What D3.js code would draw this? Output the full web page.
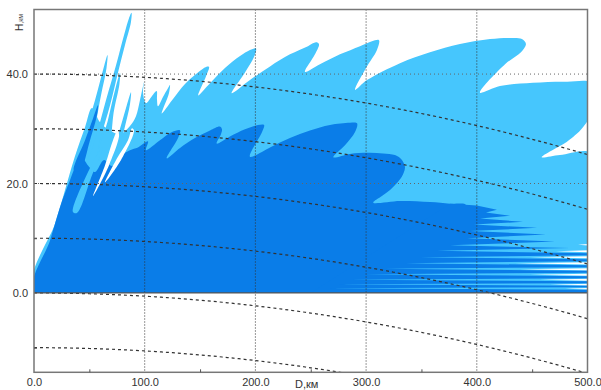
<!DOCTYPE html>
<html>
<head>
<meta charset="utf-8">
<script src="https://cdn.jsdelivr.net/npm/d3@7"></script>
<style>
  body { margin: 0; background: #fff; }
  svg { display: block; font-family: "Liberation Sans", Arial, sans-serif; }
</style>
</head>
<body>
<div id="chart"></div>
<script>
"use strict";

// axes
const xTicks = [0, 100, 200, 300, 400, 500];
const xMinorTicks = [50, 150, 250, 350, 450];
const yTicks = [0, 20, 40];
const yMinorTicks = [-10, 10, 30];
const altitudeLines = [-10, 0, 10, 20, 30, 40];
const earthRadiusKm = 8500; // 4/3 earth radius

// coverage outlines, [D km, H km]
const lightBody = [
  [0,0],[19.0,12.7],[25.3,16.9],[37.0,25.0],[46.1,30.3],[52.4,33.8],[59.6,31.2],[68.7,29.7],
  [77.7,29.0],[86.7,30.5],[92.1,32.3],[95.7,35.2],
  [99.4,38.5],[98.5,36.7],[101.2,34.7],[106.6,36.0],[110.8,36.9],[111.1,35.4],[112.0,34.1],
  [116.5,35.8],[121.0,37.4],[122.8,38.0],[121.9,36.5],[115.4,32.8],[124.7,35.2],[136.4,38.2],
  [148.1,40.3],[155.4,41.3],[158.1,41.3],[155.4,39.6],[148.4,36.1],[159.0,38.3],[172.5,41.1],
  [186.1,43.3],[195.1,44.4],[200.5,44.7],[198.7,43.1],[190.6,40.3],[178.6,36.5],[195.1,38.9],
  [213.2,41.4],[231.2,43.6],[247.5,45.1],[254.7,45.8],[257.4,45.5],[253.8,43.6],[244.8,40.4],
  [258.3,41.8],[276.4,43.6],[294.5,45.1],[305.3,46.0],[311.6,46.2],[309.8,44.4],[299.9,41.1],
  [290.0,37.1],[300.8,38.9],[330.6,42.0],[357.7,44.0],[384.8,45.5],[411.9,46.4],[430.0,46.6],
  [440.8,46.4],[444.4,45.5],[439.9,44.0],[425.5,41.8],[402.9,36.6],[420.9,37.8],[450.7,38.4],
  [481.2,38.6],[504,38.3],[504,33.0],[495.9,30.3],[488.7,28.8],[481.2,27.6],[458.6,24.8],
  [475.1,25.2],[504,25.5],[506,12],[506,0],[250,-1]
];
const lightLobeA = [[23.5,14.2],[41.6,26.1],[55.1,35.2],[62.3,40.7],[66.4,43.5],[65.5,41.1],[60.5,36.1],[52.4,27.9],[34.3,16.0]];
const lightLobeB = [[39.7,17.9],[55.1,27.9],[65.0,35.2],[74.1,41.6],[81.3,47.1],[85.8,50.2],[88.1,51.2],[87.6,49.5],[82.2,45.3],[75.9,40.3],[68.7,34.3],[59.6,27.9],[48.8,18.8]];
const lightLobeC = [[57.8,24.3],[66.8,31.6],[73.2,37.1],[77.7,40.2],[77.2,38.2],[72.3,33.4],[65.0,24.3]];
const lightLobeD = [[64.1,21.5],[75.9,28.8],[83.1,33.8],[87.6,36.7],[86.7,34.5],[81.3,29.7],[71.4,21.5]];

// white gaps between the low lobes at the far range: [edge top, apex, edge bottom]
const lightGaps = [
  [[504,9.03],[491.4,8.81],[504,8.59]],
  [[504,7.81],[471.5,7.62],[504,7.40]],
  [[504,6.71],[448.0,6.53],[504,6.31]],
  [[504,5.61],[434.5,5.43],[504,5.21]],
  [[504,4.52],[439.0,4.33],[504,4.11]],
  [[504,3.51],[448.0,3.33],[504,3.13]],
  [[504,2.60],[457.1,2.41],[504,2.23]],
  [[504,1.68],[466.1,1.50],[504,1.33]],
  [[504,0.93],[479.7,0.77],[504,0.62]]
];

const darkBody = [
  [0,0],[14.5,9.6],[19.9,13.3],[26.2,17.3],[32.5,20.6],[37.9,23.3],[43.4,24.6],[48.8,23.3],
  [55.1,22.1],[63.2,24.3],[70.5,23.2],[77.7,25.0],[86.7,26.1],[93.9,26.6],[103.0,27.7],
  [101.2,26.1],[113.8,27.9],[124.7,29.4],[131.9,29.7],[130.1,28.3],[119.9,24.6],[131.9,26.5],
  [145.4,28.3],[159.0,29.7],[168.0,30.4],[169.8,29.9],[168.9,29.0],[165.0,27.3],[177.0,28.6],
  [190.6,29.9],[202.3,30.7],[207.8,30.7],[206.0,29.4],[195.1,24.9],[213.2,26.6],[231.2,28.3],
  [249.3,29.7],[267.4,30.7],[285.4,31.1],[291.8,31.0],[290.0,29.4],[280.9,27.0],[270.4,24.8],
  [285.4,25.4],[301.7,25.6],[315.3,25.5],[326.1,25.2],[332.4,24.3],[335.1,23.0],[334.2,22.1],
  [332.1,21.2],[327.0,19.9],[321.6,18.8],[314.3,17.7],[306.5,16.5],[330.6,16.8],[357.7,16.6],
  [375.8,16.3],[390.0,16.1],[330.0,8.0],[262.0,0],[130.0,-1]
];
// finger-like low lobes, tip at the right, notch at the left
const darkStripes = [
  [375.8,16.3],[399.9,16.0],
  [418.2,15.2],[408.3,14.7],[430.0,14.1],[402.9,13.6],[441.7,13.0],[397.5,12.5],
  [454.4,11.9],[393.8,11.3],[462.5,10.7],[391.1,10.0],[470.6,9.4],[375.8,8.7],
  [484.2,8.2],[364.0,7.7],
  [504,7.26],[504,6.89],[348.7,6.53],
  [504,6.16],[504,5.80],[335.1,5.43],
  [504,5.06],[504,4.70],[317.1,4.42],
  [504,4.06],[504,3.69],[299.0,3.42],
  [504,3.05],[504,2.69],[285.4,2.41],
  [504,2.14],[504,1.77],[271.9,1.59],
  [504,1.32],[504,1.04],[263.8,0.86],
  [504,0.59],[504,0],[250,0]
];
const darkLobeA = [[36.1,22.4],[46.1,27.9],[53.3,31.9],[57.8,34.3],[56.9,32.5],[50.6,27.9],[41.6,22.4]];

// narrow streaks inside the fan
const lightStreak = [[35.2,14.8],[48.8,22.1],[59.6,26.1],[62.3,26.6],[52.4,21.5],[38.8,14.6]];
const gapStreakA = [[53.3,17.7],[64.1,23.3],[71.4,27.9],[75.0,29.4],[76.8,29.0],[67.7,23.3]];
const gapStreakB = [[64.1,20.2],[75.0,24.6],[84.9,27.9],[88.5,30.1],[90.3,29.7],[78.6,24.3]];

const width = 601;
const height = 390;
const plot = { left: 34, right: 587.5, top: 9.5, bottom: 372.3 };

const svg = d3.select("#chart")
  .append("svg")
  .attr("width", width)
  .attr("height", height);

const xScale = d3.scaleLinear().domain([0, 500]).range([plot.left, plot.right]);
const yScale = d3.scaleLinear().domain([-14.5, 51.8]).range([plot.bottom, plot.top]);

const defs = svg.append("defs");
defs.append("clipPath")
  .attr("id", "plot-clip")
  .append("rect")
  .attr("x", plot.left)
  .attr("y", plot.top)
  .attr("width", plot.right - plot.left)
  .attr("height", plot.bottom - plot.top);
defs.append("clipPath")
  .attr("id", "cover-clip")
  .append("rect")
  .attr("x", plot.left)
  .attr("y", plot.top)
  .attr("width", plot.right - plot.left)
  .attr("height", yScale(0) - plot.top);

const cover = svg.append("g").attr("clip-path", "url(#cover-clip)");
const area = svg.append("g").attr("clip-path", "url(#plot-clip)");

const rounded = d3.line()
  .x(d => xScale(d[0]))
  .y(d => yScale(d[1]))
  .curve(d3.curveCatmullRomClosed.alpha(0.5));
const straight = d3.line()
  .x(d => xScale(d[0]))
  .y(d => yScale(d[1]))
  .curve(d3.curveLinearClosed);

const lightColor = "#46c6fd";
const darkColor = "#0a7de8";

[lightBody, lightLobeA, lightLobeB, lightLobeC, lightLobeD].forEach(shape => {
  cover.append("path").attr("d", rounded(shape)).attr("fill", lightColor);
});
lightGaps.forEach(shape => {
  cover.append("path").attr("d", straight(shape)).attr("fill", "#fff");
});
[darkBody, darkLobeA].forEach(shape => {
  cover.append("path").attr("d", rounded(shape)).attr("fill", darkColor);
});
cover.append("path").attr("d", straight(darkStripes)).attr("fill", darkColor);
cover.append("path").attr("d", rounded(lightStreak)).attr("fill", lightColor);
[gapStreakA, gapStreakB].forEach(shape => {
  cover.append("path").attr("d", rounded(shape)).attr("fill", "#fff");
});

// grid
area.selectAll(".vgrid")
  .data(xTicks.slice(1, -1))
  .enter()
  .append("line")
  .attr("x1", d => xScale(d))
  .attr("x2", d => xScale(d))
  .attr("y1", plot.top)
  .attr("y2", plot.bottom)
  .attr("stroke", "#333")
  .attr("stroke-width", 1)
  .attr("stroke-dasharray", "1,2");

area.selectAll(".hgrid")
  .data(yTicks.slice(1))
  .enter()
  .append("line")
  .attr("x1", plot.left)
  .attr("x2", plot.right)
  .attr("y1", d => yScale(d))
  .attr("y2", d => yScale(d))
  .attr("stroke", "#666")
  .attr("stroke-width", 1)
  .attr("stroke-dasharray", "1,3");

const distances = d3.range(0, 501, 5);
const altitudeLine = d3.line()
  .x(d => xScale(d[0]))
  .y(d => yScale(d[1]));

area.selectAll(".altitude")
  .data(altitudeLines)
  .enter()
  .append("path")
  .attr("d", h => altitudeLine(distances.map(d => [d, h - d * d / (2 * earthRadiusKm)])))
  .attr("fill", "none")
  .attr("stroke", "#333")
  .attr("stroke-width", 1.2)
  .attr("stroke-dasharray", "3,3");

area.append("line")
  .attr("x1", plot.left)
  .attr("x2", plot.right)
  .attr("y1", yScale(0))
  .attr("y2", yScale(0))
  .attr("stroke", "#555")
  .attr("stroke-width", 1.2);

svg.append("rect")
  .attr("x", plot.left)
  .attr("y", plot.top)
  .attr("width", plot.right - plot.left)
  .attr("height", plot.bottom - plot.top)
  .attr("fill", "none")
  .attr("stroke", "#777")
  .attr("stroke-width", 1.5);

// axes
const fmt = d3.format(".1f");

svg.append("g")
  .attr("transform", `translate(0, ${plot.bottom})`)
  .call(d3.axisBottom(xScale).tickValues(xTicks).tickFormat(fmt).tickSize(0).tickPadding(6));
svg.append("g")
  .attr("transform", `translate(${plot.left}, 0)`)
  .call(d3.axisLeft(yScale).tickValues(yTicks).tickFormat(fmt).tickSize(0).tickPadding(6));

svg.append("g")
  .attr("transform", `translate(0, ${plot.bottom})`)
  .call(d3.axisBottom(xScale).tickValues(xMinorTicks).tickFormat("").tickSize(-3));
svg.append("g")
  .attr("transform", `translate(${plot.left}, 0)`)
  .call(d3.axisLeft(yScale).tickValues(yMinorTicks).tickFormat("").tickSize(-3));

svg.selectAll(".domain").remove();
svg.selectAll(".tick line").attr("stroke", "#555");
svg.selectAll(".tick text")
  .attr("fill", "#333")
  .style("font-size", "11px")
  .style("font-family", "'Liberation Sans', Arial, sans-serif");

svg.append("text")
  .attr("x", 295)
  .attr("y", 388)
  .attr("fill", "#333")
  .style("font-size", "11px")
  .text("D,км");

const yLabel = svg.append("text")
  .attr("transform", "translate(23, 31) rotate(-90)")
  .attr("fill", "#333")
  .style("font-size", "10px");
yLabel.append("tspan").text("H");
yLabel.append("tspan").style("font-size", "7px").text(",км");
</script>
</body>
</html>
